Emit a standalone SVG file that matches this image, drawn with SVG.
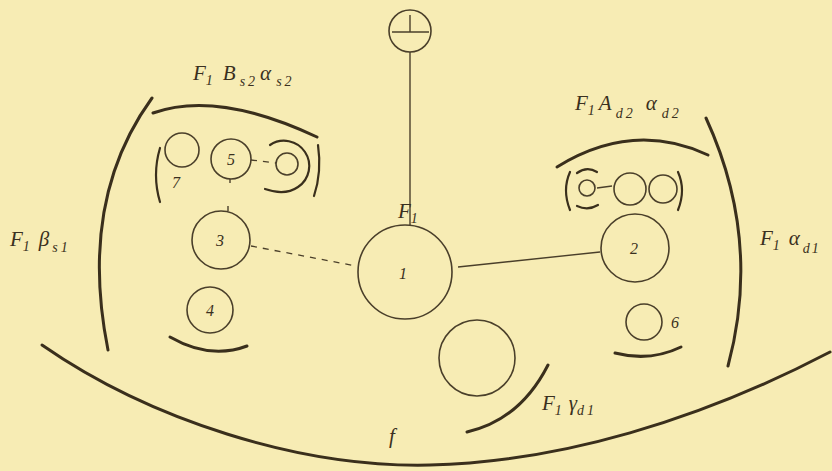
<svg xmlns="http://www.w3.org/2000/svg" width="832" height="471" viewBox="0 0 832 471">
<style>
.c{fill:none;stroke:#4a3f2a;stroke-width:1.6}
.l{fill:none;stroke:#4a3f2a;stroke-width:1.4}
.d{fill:none;stroke:#4a3f2a;stroke-width:1.3;stroke-dasharray:6,6}
.b{fill:none;stroke:#3a2f1c;stroke-width:3;stroke-linecap:round}
.m{fill:none;stroke:#3a2f1c;stroke-width:2.2;stroke-linecap:round}
text{font-family:"Liberation Serif",serif;font-style:italic;fill:#3a3020}
.n{font-size:16px;text-anchor:middle}
.t{font-size:21px}
.s{font-size:14px;letter-spacing:3px}
</style>
<rect width="832" height="471" fill="#f7ecb4"/>
<g id="connectors">
<line class="l" x1="410" y1="52" x2="410" y2="225"/>
<line class="l" x1="458" y1="267" x2="600" y2="252"/>
<line class="d" x1="251" y1="246" x2="356" y2="266"/>
<line class="d" x1="251" y1="160" x2="276" y2="163"/>
<line class="l" x1="230" y1="179" x2="230" y2="183"/>
<line class="l" x1="228" y1="206" x2="228" y2="211"/>
<line class="l" x1="597" y1="188" x2="612" y2="186"/>
</g>
<g id="n0"><circle class="c" cx="410" cy="31" r="21"/><line class="l" x1="392" y1="32" x2="429" y2="32"/><line class="l" x1="410" y1="15" x2="410" y2="32"/></g>
<g id="n1"><circle class="c" cx="405" cy="272" r="47"/><text class="n" x="403" y="279">1</text></g>
<g id="n2"><circle class="c" cx="635" cy="248" r="34"/><text class="n" x="634" y="254">2</text></g>
<g id="n3"><circle class="c" cx="221" cy="240" r="29"/><text class="n" x="220" y="246">3</text></g>
<g id="n4"><circle class="c" cx="210" cy="310" r="23"/><text class="n" x="210" y="316">4</text></g>
<g id="n5"><circle class="c" cx="231" cy="159" r="20"/><text class="n" x="231" y="165">5</text></g>
<g id="n6"><circle class="c" cx="644" cy="322" r="18"/><text class="n" x="675" y="328">6</text></g>
<g id="n7"><circle class="c" cx="182" cy="150" r="17"/><text class="n" x="176" y="188">7</text></g>
<g id="n8"><circle class="c" cx="287" cy="164" r="11"/><path class="m" d="M270,145 A25,25 0 0 1 298,187 Q285,196 265,189"/></g>
<g id="n9"><circle class="c" cx="477" cy="358" r="38"/></g>
<g id="n10"><circle class="c" cx="587" cy="188" r="8"/><path class="m" d="M577,173 Q587,166 597,172"/><path class="m" d="M577,206 Q588,211 598,205"/></g>
<g id="n11"><circle class="c" cx="630" cy="189" r="16"/></g>
<g id="n12"><circle class="c" cx="663" cy="189" r="14"/></g>
<g id="brackets">
<path class="b" d="M153,113 Q217,90 317,137"/>
<path class="m" d="M160,148 Q152,175 160,202"/>
<path class="m" d="M318,145 Q322,172 314,196"/>
<path class="b" d="M170,337 Q210,360 247,346"/>
<path class="b" d="M557,167 Q633,120 708,155"/>
<path class="m" d="M570,172 Q562,190 570,210"/>
<path class="m" d="M678,172 Q686,190 678,210"/>
<path class="b" d="M615,353 Q650,362 681,347"/>
<path class="b" d="M152,98 Q78,200 108,350"/>
<path class="b" d="M706,118 Q762,240 728,366"/>
<path class="b" d="M548,365 Q520,420 467,432"/>
<path class="b" d="M42,345 C150,420 300,468 430,465 C560,462 700,420 830,352"/>
</g>
<g id="labels">
<text class="t" x="398" y="218">F<tspan class="s" dy="5">1</tspan></text>
<text class="t" x="193" y="80">F<tspan class="s" dy="5">1</tspan><tspan dy="-5" dx="7">B</tspan><tspan class="s" dy="6" dx="4">s2</tspan><tspan dy="-6" dx="2">α</tspan><tspan class="s" dy="6" dx="5">s2</tspan></text>
<text class="t" x="575" y="110">F<tspan class="s" dy="5">1</tspan><tspan dy="-5" dx="1">A</tspan><tspan class="s" dy="8" dx="4">d2</tspan><tspan dy="-8" dx="10">α</tspan><tspan class="s" dy="8" dx="5">d2</tspan></text>
<text class="t" x="10" y="246">F<tspan class="s" dy="5">1</tspan><tspan dy="-5" dx="6">β</tspan><tspan class="s" dy="6" dx="3">s1</tspan></text>
<text class="t" x="760" y="245">F<tspan class="s" dy="5">1</tspan><tspan dy="-5" dx="6">α</tspan><tspan class="s" dy="8" dx="3" style="letter-spacing:2px">d1</tspan></text>
<text class="t" x="542" y="410">F<tspan class="s" dy="5">1</tspan><tspan dy="-5" dx="4">γ</tspan><tspan class="s" dy="5">d1</tspan></text>
<text class="t" x="389" y="443">f</text>
</g>
</svg>
